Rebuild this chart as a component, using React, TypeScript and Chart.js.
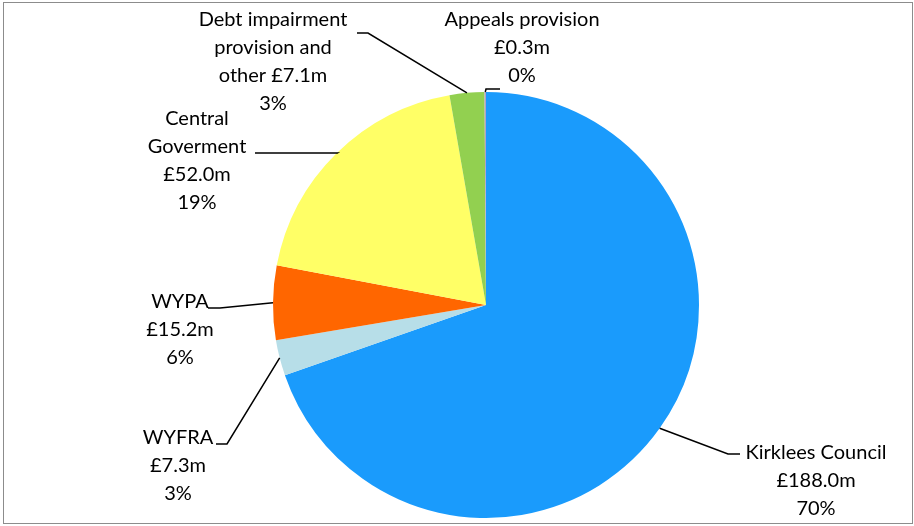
import React, { useEffect, useRef } from "react";
import { Chart, registerables } from "chart.js";

Chart.register(...registerables);

const categories = ["Kirklees Council", "WYFRA", "WYPA", "Central Goverment", "Debt impairment provision and other", "Appeals provision"];
const values = [188.0, 7.3, 15.2, 52.0, 7.1, 0.3];
const labelLines = [
  ["Kirklees Council", "£188.0m", "70%"],
  ["WYFRA", "£7.3m", "3%"],
  ["WYPA", "£15.2m", "6%"],
  ["Central", "Goverment", "£52.0m", "19%"],
  ["Debt impairment", "provision and", "other £7.1m", "3%"],
  ["Appeals provision", "£0.3m", "0%"],
];
const colors = ["#1A9BFC", "#B7DEE8", "#FF6600", "#FFFF66", "#92D050", "#B3A2C7"];

// Label layout: elbow point, end of horizontal segment, text centre x, first line y
const labelLayout = [
  { elbow: [728, 454], end: [740, 454], tx: 816, ty: 453 },
  { elbow: [227, 444], end: [216, 444], tx: 178, ty: 438 },
  { elbow: [220, 308], end: [208, 308], tx: 180, ty: 302 },
  { elbow: [337, 153], end: [255, 153], tx: 197, ty: 119 },
  { elbow: [368, 33], end: [357, 33], tx: 273, ty: 20 },
  { elbow: [486, 89], end: [500, 89], tx: 522, ty: 20 },
];
const LINE_H = 28;
const FONT = "20px Lato, 'Noto Sans', sans-serif";

const labelPlugin = {
  id: "leaderLabels",
  afterDraw(chart: any) {
    const ctx = chart.ctx;
    const meta = chart.getDatasetMeta(0);
    ctx.save();
    ctx.strokeStyle = "#8C8C8C";
    ctx.lineWidth = 1;
    ctx.strokeRect(3.5, 2.5, 909, 521);
    meta.data.forEach((arc: any, i: number) => {
      const { x, y, startAngle, endAngle, outerRadius } = arc.getProps(["x", "y", "startAngle", "endAngle", "outerRadius"], true);
      const mid = (startAngle + endAngle) / 2;
      const sx = x + Math.cos(mid) * outerRadius;
      const sy = y + Math.sin(mid) * outerRadius;
      const L = labelLayout[i];
      ctx.strokeStyle = "#000";
      ctx.lineWidth = 1.5;
      ctx.beginPath();
      ctx.moveTo(sx, sy);
      ctx.lineTo(L.elbow[0], L.elbow[1]);
      ctx.lineTo(L.end[0], L.end[1]);
      ctx.stroke();
      ctx.fillStyle = "#000";
      ctx.font = FONT;
      ctx.textAlign = "center";
      ctx.textBaseline = "middle";
      labelLines[i].forEach((t, k) => ctx.fillText(t, L.tx, L.ty + k * LINE_H));
    });
    ctx.restore();
  },
};

export default function App() {
  const ref = useRef<HTMLCanvasElement>(null);
  useEffect(() => {
    const chart = new Chart(ref.current!, {
      type: "pie",
      data: {
        labels: categories,
        datasets: [
          {
            data: values,
            backgroundColor: colors,
            borderWidth: 0,
          },
        ],
      },
      options: {
        responsive: false,
        animation: false,
        layout: { padding: { top: 92, bottom: 8, left: 100, right: 42 } },
        plugins: { legend: { display: false }, tooltip: { enabled: false } },
      },
      plugins: [labelPlugin],
    });
    return () => chart.destroy();
  }, []);
  return (
    <div style={{ position: "fixed", left: 0, top: 0, width: 914, height: 526, background: "#fff" }}>
      <canvas ref={ref} width={914} height={526} style={{ width: 914, height: 526 }} />
    </div>
  );
}
